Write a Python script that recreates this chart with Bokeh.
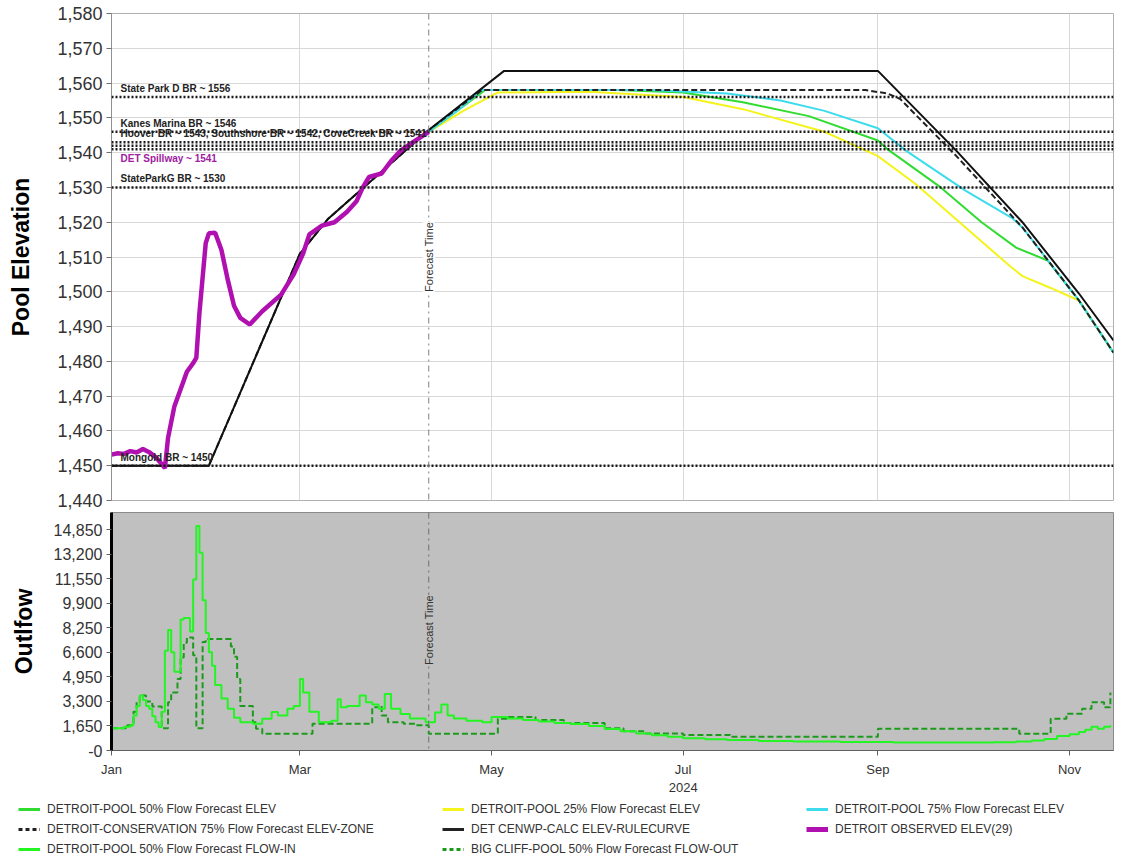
import pandas as pd
from bokeh.plotting import figure
from bokeh.layouts import column
from bokeh.models import (Range1d, FixedTicker, NumeralTickFormatter, Span, Label,
                          Legend, LegendItem, ColumnDataSource, DatetimeTickFormatter)
from bokeh.core.properties import value
from bokeh.embed import file_html
from bokeh.resources import INLINE

FONT = "Liberation Sans"

# ---------------- data ----------------
x_start = "2024-01-01"
x_end = "2024-11-15"
forecast_time = "2024-04-11"
month_ticks = ["2024-01-01", "2024-03-01", "2024-05-01", "2024-07-01", "2024-09-01", "2024-11-01"]
month_labels = ["Jan", "Mar", "May", "Jul\n2024", "Sep", "Nov"]

elev_ticks = list(range(1440, 1581, 10))
flow_ticks = [0, 1650, 3300, 4950, 6600, 8250, 9900, 11550, 13200, 14850]

ref_names = ["State Park D BR ~ 1556", "Kanes Marina BR ~ 1546",
             "Hoover BR ~ 1543, Southshore BR ~ 1542, CoveCreek BR ~ 1541",
             "StateParkG BR ~ 1530", "Mongold BR ~ 1450"]
ref_label_levels = [1556, 1546, 1543, 1530, 1450]
ref_levels = [1556, 1546, 1543, 1542, 1541, 1530, 1450]
spill_name = ["DET Spillway ~ 1541"]
spill_level = [1541]

rule_dates = ["2024-01-01", "2024-02-01", "2024-03-01", "2024-03-10", "2024-04-11", "2024-05-05",
              "2024-09-01", "2024-09-26", "2024-10-17", "2024-11-04", "2024-11-15"]
rule_elev = [1450, 1450, 1511, 1521, 1546.5, 1563.5, 1563.5, 1540.5, 1520, 1499.5, 1486]

cons_dates = ["2024-01-01", "2024-02-01", "2024-03-01", "2024-03-10", "2024-04-11", "2024-04-28",
              "2024-08-28", "2024-09-04", "2024-09-08", "2024-09-26", "2024-10-17", "2024-11-04",
              "2024-11-15"]
cons_elev = [1450, 1450, 1511, 1521, 1546.5, 1558, 1558, 1557, 1555.5, 1539, 1518.5, 1497.5, 1482.5]

f50_dates = ["2024-04-11", "2024-04-20", "2024-04-29", "2024-06-10", "2024-07-01", "2024-07-20",
             "2024-08-10", "2024-09-01", "2024-09-04", "2024-09-21", "2024-10-04", "2024-10-15",
             "2024-10-25", "2024-11-04", "2024-11-15"]
f50_elev = [1546, 1552, 1558, 1558, 1557.3, 1554.5, 1550.5, 1543.5, 1541, 1530, 1520, 1512.7,
            1509, 1497.5, 1482.5]

f25_dates = ["2024-04-11", "2024-04-22", "2024-05-03", "2024-06-01", "2024-07-01", "2024-07-20",
             "2024-08-15", "2024-09-01", "2024-09-13", "2024-09-29", "2024-10-13", "2024-10-17",
             "2024-10-26", "2024-11-04", "2024-11-15"]
f25_elev = [1546, 1552, 1557.3, 1557.5, 1556, 1552.5, 1546, 1539, 1531, 1518.4, 1507.4, 1504.5,
            1501.1, 1497.5, 1482.5]

f75_dates = ["2024-04-11", "2024-04-20", "2024-04-28", "2024-06-20", "2024-07-15", "2024-08-01",
             "2024-08-15", "2024-09-01", "2024-09-10", "2024-09-29", "2024-10-14", "2024-10-17",
             "2024-11-04", "2024-11-15"]
f75_elev = [1546, 1552, 1558, 1558, 1557, 1555, 1552, 1547, 1540.5, 1529, 1521, 1518.5, 1497.5,
            1482.5]

obs_dates = ["2024-01-01", "2024-01-03", "2024-01-05", "2024-01-07", "2024-01-09", "2024-01-11",
             "2024-01-13", "2024-01-15", "2024-01-17", "2024-01-18", "2024-01-19", "2024-01-21",
             "2024-01-23", "2024-01-25", "2024-01-27", "2024-01-28", "2024-01-29", "2024-01-30",
             "2024-01-31", "2024-02-01", "2024-02-03", "2024-02-05", "2024-02-07", "2024-02-09",
             "2024-02-11", "2024-02-14", "2024-02-18", "2024-02-24", "2024-02-28", "2024-03-02",
             "2024-03-04", "2024-03-08", "2024-03-12", "2024-03-16", "2024-03-19", "2024-03-21",
             "2024-03-23", "2024-03-27", "2024-03-30", "2024-04-02", "2024-04-06", "2024-04-11"]
obs_elev = [1453.2, 1453.6, 1453.4, 1454.2, 1453.8, 1454.8, 1453.9, 1452.5, 1450.5, 1449.3, 1458,
            1467, 1472, 1477, 1479.5, 1481, 1494, 1504, 1514, 1516.8, 1517, 1512, 1503.5, 1496,
            1492.5, 1490.6, 1494.4, 1499.2, 1505, 1511, 1516.5, 1519, 1520, 1523, 1526, 1530,
            1533, 1534, 1537.6, 1540.5, 1543, 1546]

in_dates = ["2024-01-01", "2024-01-05", "2024-01-07", "2024-01-08", "2024-01-09", "2024-01-10",
            "2024-01-11", "2024-01-12", "2024-01-13", "2024-01-14", "2024-01-15", "2024-01-16",
            "2024-01-17", "2024-01-18", "2024-01-19", "2024-01-20", "2024-01-21", "2024-01-23",
            "2024-01-24", "2024-01-26", "2024-01-27", "2024-01-28", "2024-01-29", "2024-01-30",
            "2024-01-31", "2024-02-01", "2024-02-02", "2024-02-03", "2024-02-05", "2024-02-07",
            "2024-02-09", "2024-02-11", "2024-02-15", "2024-02-18", "2024-02-21", "2024-02-23",
            "2024-02-26", "2024-02-28", "2024-03-01", "2024-03-02", "2024-03-04", "2024-03-07",
            "2024-03-11", "2024-03-13", "2024-03-14", "2024-03-16", "2024-03-20", "2024-03-22",
            "2024-03-24", "2024-03-26", "2024-03-28", "2024-03-30", "2024-04-02", "2024-04-05",
            "2024-04-10", "2024-04-13", "2024-04-15", "2024-04-17", "2024-04-19", "2024-04-23",
            "2024-04-28", "2024-05-01", "2024-05-06", "2024-05-11", "2024-05-16", "2024-05-21",
            "2024-05-26", "2024-06-01", "2024-06-06", "2024-06-11", "2024-06-16", "2024-06-21",
            "2024-06-26", "2024-07-01", "2024-07-08", "2024-07-15", "2024-07-25", "2024-08-05",
            "2024-08-20", "2024-09-06", "2024-09-25", "2024-10-08", "2024-10-15", "2024-10-20",
            "2024-10-24", "2024-10-28", "2024-11-01", "2024-11-04", "2024-11-06", "2024-11-08",
            "2024-11-10", "2024-11-12", "2024-11-14"]
in_flow = [1500, 1600, 1700, 2350, 3000, 3700, 3400, 3000, 2800, 2300, 1900, 1580, 2600, 6700,
           8100, 6600, 5300, 8800, 8900, 8000, 11500, 15100, 13300, 10100, 7900, 6600, 5700, 4400,
           3500, 2800, 2200, 1900, 1800, 2130, 2580, 2350, 2800, 3000, 4800, 3900, 2600, 1900,
           2000, 3450, 2900, 3000, 3700, 3250, 3100, 2800, 3800, 2800, 2450, 2150, 1900, 2550,
           3100, 2350, 2150, 2000, 1900, 2250, 2150, 2050, 1950, 1850, 1780, 1650, 1450, 1300,
           1150, 1030, 920, 830, 760, 700, 640, 600, 570, 540, 530, 550, 600, 680, 780, 980, 1100,
           1250, 1400, 1600, 1470, 1600, 1700]

out_dates = ["2024-01-01", "2024-01-06", "2024-01-08", "2024-01-09", "2024-01-10", "2024-01-12",
             "2024-01-14", "2024-01-17", "2024-01-19", "2024-01-20", "2024-01-22", "2024-01-23",
             "2024-01-24", "2024-01-25", "2024-01-27", "2024-01-28", "2024-01-30", "2024-01-31",
             "2024-02-08", "2024-02-09", "2024-02-10", "2024-02-11", "2024-02-15", "2024-02-16",
             "2024-02-18", "2024-03-05", "2024-03-24", "2024-03-26", "2024-03-27", "2024-03-29",
             "2024-04-03", "2024-04-07", "2024-04-11", "2024-05-01", "2024-05-03", "2024-05-06",
             "2024-05-15", "2024-05-24", "2024-06-06", "2024-06-12", "2024-06-19", "2024-07-01",
             "2024-07-16", "2024-09-01", "2024-10-16", "2024-10-26", "2024-10-31", "2024-11-05",
             "2024-11-08", "2024-11-12", "2024-11-14"]
out_flow = [1500, 1700, 2600, 3250, 3700, 3300, 2950, 1500, 3250, 3900, 4800, 6250, 7250, 7600,
            6400, 1500, 7300, 7500, 7000, 6300, 4800, 3000, 1900, 1470, 1130, 1800, 2900, 3000,
            2350, 1900, 1800, 1700, 1130, 1130, 2130, 2250, 2050, 1850, 1500, 1300, 1150, 1050,
            920, 1470, 1130, 2130, 2470, 2800, 3250, 2900, 3900]

series_names = ["DETROIT-POOL 50% Flow Forecast ELEV", "DETROIT-POOL 25% Flow Forecast ELEV",
                "DETROIT-POOL 75% Flow Forecast ELEV",
                "DETROIT-CONSERVATION 75% Flow Forecast ELEV-ZONE",
                "DET CENWP-CALC ELEV-RULECURVE", "DETROIT OBSERVED ELEV(29)",
                "DETROIT-POOL 50% Flow Forecast FLOW-IN",
                "BIG CLIFF-POOL 50% Flow Forecast FLOW-OUT"]

# ---------------- styles ----------------
C50, C25, C75 = "#30dc30", "#f4f41c", "#3cdcec"
CPURPLE = "#b010b0"
CIN, COUT = "#22f522", "#1c9a1c"
W = 1120
LEFT = 111
RIGHT = W - 1113


def ms(d):
    return pd.Timestamp(d).value // 10**6


def dt(lst):
    return pd.to_datetime(lst)


month_ms = [ms(d) for d in month_ticks]
xr = Range1d(start=pd.Timestamp(x_start), end=pd.Timestamp(x_end))

# ---------------- top: pool elevation ----------------
p1 = figure(width=W, height=510, x_axis_type="datetime", x_range=xr,
            y_range=Range1d(1440, 1580), output_backend="svg", toolbar_location=None,
            min_border_left=LEFT, min_border_right=RIGHT, min_border_top=13, min_border_bottom=10)
p1.xaxis.visible = False
p1.xgrid.ticker = FixedTicker(ticks=month_ms)
p1.yaxis.ticker = FixedTicker(ticks=elev_ticks)
p1.ygrid.ticker = FixedTicker(ticks=elev_ticks)
p1.grid.grid_line_color = "#d8d8d8"
p1.grid.grid_line_width = 1
p1.outline_line_color = "#b0b0b0"
p1.yaxis.formatter = NumeralTickFormatter(format="0,0")
p1.yaxis.axis_label = "Pool Elevation"
ya = p1.yaxis[0]
ya.axis_label_text_font = FONT
ya.axis_label_text_font_style = "bold"
ya.axis_label_text_font_size = "23px"
ya.axis_label_text_color = "#000000"
ya.axis_label_standoff = 20
ya.major_label_text_font = FONT
ya.major_label_text_font_size = "18px"
ya.major_label_text_color = "#333333"
ya.major_label_standoff = 4
ya.major_tick_in = 0
ya.major_tick_out = 5
ya.minor_tick_line_color = None
ya.axis_line_color = "#909090"
ya.major_tick_line_color = "#707070"

for lvl in ref_levels:
    p1.add_layout(Span(location=lvl, dimension="width", line_color="#1a1a1a",
                       line_dash="2 2", line_width=2.5))

p1.line(dt(f25_dates), f25_elev, line_color=C25, line_width=2)
p1.line(dt(f50_dates), f50_elev, line_color=C50, line_width=2)
p1.line(dt(f75_dates), f75_elev, line_color=C75, line_width=2)
p1.line(dt(cons_dates), cons_elev, line_color="#222222", line_width=2, line_dash="6 3")
p1.line(dt(rule_dates), rule_elev, line_color="#111111", line_width=2)
p1.line(dt(obs_dates), obs_elev, line_color=CPURPLE, line_width=4.5)

lab_src = ColumnDataSource(dict(x=dt([x_start] * len(ref_names)), y=ref_label_levels, t=ref_names))
p1.text(x="x", y="y", text="t", source=lab_src, x_offset=9, y_offset=-3,
        text_baseline="bottom", text_align="left", text_font=value(FONT),
        text_font_size="10px", text_font_style="bold", text_color="#222222")
sp_src = ColumnDataSource(dict(x=dt([x_start]), y=spill_level, t=spill_name))
p1.text(x="x", y="y", text="t", source=sp_src, x_offset=9, y_offset=4,
        text_baseline="top", text_align="left", text_font=value(FONT),
        text_font_size="10px", text_font_style="bold", text_color="#a020a0")

fc_ms = ms(forecast_time)
p1.add_layout(Span(location=fc_ms, dimension="height", line_color="#808080",
                   line_dash="dashdot", line_width=1))
p1.add_layout(Label(x=fc_ms, y=1510, text="Forecast Time", angle=1.5708,
                    text_align="center", text_baseline="middle", text_font=FONT,
                    text_font_size="11px", text_color="#333333",
                    background_fill_color="white"))

# ---------------- bottom: outflow ----------------
p2 = figure(width=W, height=287, x_axis_type="datetime", x_range=xr,
            y_range=Range1d(0, 16000), output_backend="svg", toolbar_location=None,
            min_border_left=LEFT, min_border_right=RIGHT, min_border_top=2, min_border_bottom=45)
p2.background_fill_color = "#c0c0c0"
p2.grid.visible = False
p2.outline_line_color = "#8a8a8a"
p2.xaxis.ticker = FixedTicker(ticks=month_ms)
p2.xaxis.formatter = DatetimeTickFormatter(months="%b")
p2.xaxis.major_label_overrides = {m: l for m, l in zip(month_ms, month_labels)}
xa = p2.xaxis[0]
xa.major_label_text_font = FONT
xa.major_label_text_font_size = "13px"
xa.major_label_text_color = "#333333"
xa.major_label_standoff = 6
xa.major_tick_in = 0
xa.major_tick_out = 5
xa.minor_tick_line_color = None
xa.axis_line_color = "#606060"
xa.major_tick_line_color = "#606060"

p2.yaxis.ticker = FixedTicker(ticks=flow_ticks)
p2.yaxis.formatter = NumeralTickFormatter(format="0,0")
p2.yaxis.major_label_overrides = {0: "-0"}
p2.yaxis.axis_label = "Outlfow"
yb = p2.yaxis[0]
yb.axis_label_text_font = FONT
yb.axis_label_text_font_style = "bold"
yb.axis_label_text_font_size = "23px"
yb.axis_label_text_color = "#000000"
yb.axis_label_standoff = 14
yb.major_label_text_font = FONT
yb.major_label_text_font_size = "16px"
yb.major_label_text_color = "#333333"
yb.major_label_standoff = 4
yb.major_tick_in = 0
yb.major_tick_out = 5
yb.minor_tick_line_color = None
yb.axis_line_color = "#000000"
yb.axis_line_width = 3
yb.major_tick_line_color = "#606060"

p2.step(dt(out_dates), out_flow, mode="after", line_color=COUT, line_width=2, line_dash="6 3")
p2.step(dt(in_dates), in_flow, mode="after", line_color=CIN, line_width=2)

p2.add_layout(Span(location=fc_ms, dimension="height", line_color="#707070",
                   line_dash="dashdot", line_width=1))
p2.add_layout(Label(x=fc_ms, y=8100, text="Forecast Time", angle=1.5708,
                    text_align="center", text_baseline="middle", text_font=FONT,
                    text_font_size="11px", text_color="#333333",
                    background_fill_color="#c0c0c0"))

# ---------------- legend strip ----------------
# the legend's own renderers carry the real series, but its ranges keep them out of view
p3 = figure(width=W, height=61, x_range=Range1d(0, 1), y_range=Range1d(0, 1),
            x_axis_location=None, y_axis_location=None, output_backend="svg",
            toolbar_location=None, min_border=0, outline_line_color=None)
p3.frame_align = False
p3.grid.visible = False

series_data = [(f50_dates, f50_elev), (f25_dates, f25_elev), (f75_dates, f75_elev),
               (cons_dates, cons_elev), (rule_dates, rule_elev), (obs_dates, obs_elev),
               (in_dates, in_flow), (out_dates, out_flow)]
styles = [dict(line_color=C50, line_width=3), dict(line_color=C25, line_width=3),
          dict(line_color=C75, line_width=3),
          dict(line_color="#222222", line_width=3, line_dash="4 3"),
          dict(line_color="#222222", line_width=3), dict(line_color=CPURPLE, line_width=5),
          dict(line_color=CIN, line_width=3), dict(line_color=COUT, line_width=3, line_dash="4 3")]
rends = [p3.line(x=dt(d), y=v, **s) for (d, v), s in zip(series_data, styles)]

cols = [[0, 3, 6], [1, 4, 7], [2, 5]]
col_x = [18, 442, 806]
for idx, cx in zip(cols, col_x):
    items = [LegendItem(label=series_names[i], renderers=[rends[i]]) for i in idx]
    leg = Legend(items=items, location=(cx, 2 + 20 * (3 - len(idx))), orientation="vertical",
                 border_line_color=None, background_fill_alpha=0, padding=0, margin=0,
                 spacing=6, label_height=14, glyph_height=14, glyph_width=22,
                 label_standoff=7, label_text_font=FONT, label_text_font_size="12px",
                 label_text_color="#333333")
    p3.add_layout(leg)

layout = column(p1, p2, p3)
open("out.html", "w").write(file_html(layout, INLINE))
